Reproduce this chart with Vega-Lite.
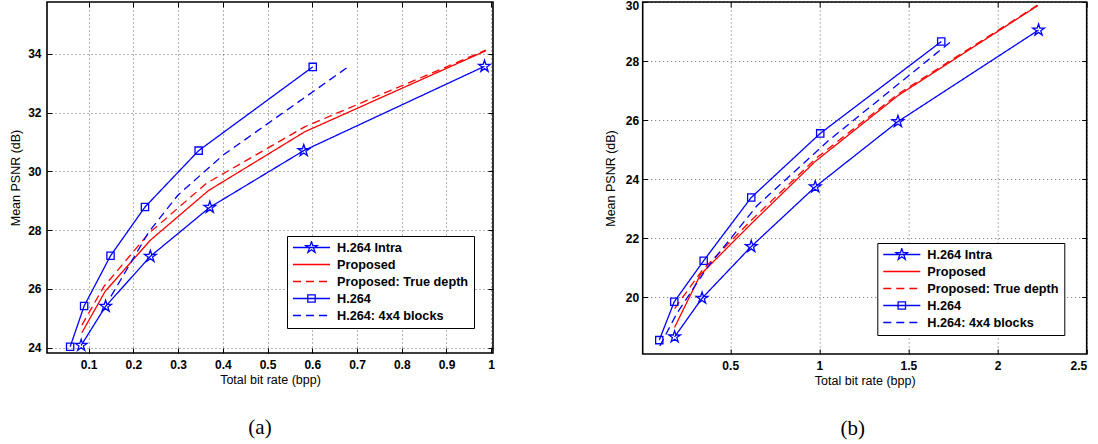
{
  "$schema": "https://vega.github.io/schema/vega-lite/v6.json",
  "background": "white",
  "padding": {"left": 8, "top": -2, "right": 0, "bottom": 0},
  "bounds": "flush",
  "spacing": 149.7,
  "config": {
    "font": "Liberation Sans",
    "view": {"stroke": "black", "strokeWidth": 1.6},
    "axis": {
      "domain": false,
      "format": "~g",
      "labelFont": "Liberation Sans",
      "labelFontWeight": "bold",
      "labelFontSize": 12,
      "labelColor": "black",
      "titleFont": "Liberation Sans",
      "titleFontWeight": "normal",
      "titleFontSize": 12.5,
      "titleColor": "black",
      "tickColor": "black",
      "tickSize": -5,
      "tickWidth": 1,
      "gridColor": "#000000",
      "gridDash": [1, 3],
      "gridOpacity": 0.6,
      "gridWidth": 1
    },
    "legend": {
      "title": null,
      "orient": "none",
      "symbolSize": 1369,
      "symbolStrokeWidth": 1.3,
      "labelFont": "Liberation Sans",
      "labelFontSize": 12.7,
      "labelFontWeight": "bold",
      "labelColor": "black",
      "labelOffset": 6,
      "labelLimit": 400,
      "clipHeight": 13,
      "rowPadding": 3,
      "padding": 5,
      "strokeColor": "black",
      "fillColor": "white"
    }
  },
  "resolve": {
    "scale": {"color": "independent", "strokeDash": "independent", "shape": "independent", "size": "independent"},
    "legend": {"color": "independent", "strokeDash": "independent"}
  },
  "datasets": {
    "pts": [
      {"p": "a", "s": "H.264 Intra", "x": 0.0834, "y": 24.08},
      {"p": "a", "s": "H.264 Intra", "x": 0.138, "y": 25.41},
      {"p": "a", "s": "H.264 Intra", "x": 0.238, "y": 27.11},
      {"p": "a", "s": "H.264 Intra", "x": 0.371, "y": 28.78},
      {"p": "a", "s": "H.264 Intra", "x": 0.581, "y": 30.71},
      {"p": "a", "s": "H.264 Intra", "x": 0.985, "y": 33.58},
      {"p": "a", "s": "Proposed", "x": 0.085, "y": 24.51},
      {"p": "a", "s": "Proposed", "x": 0.137, "y": 25.92},
      {"p": "a", "s": "Proposed", "x": 0.238, "y": 27.66},
      {"p": "a", "s": "Proposed", "x": 0.368, "y": 29.35},
      {"p": "a", "s": "Proposed", "x": 0.583, "y": 31.35},
      {"p": "a", "s": "Proposed", "x": 0.988, "y": 34.11},
      {"p": "a", "s": "Proposed: True depth", "x": 0.085, "y": 24.77},
      {"p": "a", "s": "Proposed: True depth", "x": 0.134, "y": 26.08},
      {"p": "a", "s": "Proposed: True depth", "x": 0.235, "y": 27.9},
      {"p": "a", "s": "Proposed: True depth", "x": 0.364, "y": 29.6},
      {"p": "a", "s": "Proposed: True depth", "x": 0.583, "y": 31.52},
      {"p": "a", "s": "Proposed: True depth", "x": 0.988, "y": 34.13},
      {"p": "a", "s": "H.264", "x": 0.0587, "y": 24.03},
      {"p": "a", "s": "H.264", "x": 0.09, "y": 25.42},
      {"p": "a", "s": "H.264", "x": 0.149, "y": 27.13},
      {"p": "a", "s": "H.264", "x": 0.226, "y": 28.79},
      {"p": "a", "s": "H.264", "x": 0.346, "y": 30.71},
      {"p": "a", "s": "H.264", "x": 0.601, "y": 33.56},
      {"p": "a", "s": "H.264: 4x4 blocks", "x": 0.15, "y": 25.75},
      {"p": "a", "s": "H.264: 4x4 blocks", "x": 0.235, "y": 27.95},
      {"p": "a", "s": "H.264: 4x4 blocks", "x": 0.3, "y": 29.2},
      {"p": "a", "s": "H.264: 4x4 blocks", "x": 0.4, "y": 30.55},
      {"p": "a", "s": "H.264: 4x4 blocks", "x": 0.681, "y": 33.57},
      {"p": "b", "s": "H.264 Intra", "x": 0.188, "y": 18.66},
      {"p": "b", "s": "H.264 Intra", "x": 0.342, "y": 19.97},
      {"p": "b", "s": "H.264 Intra", "x": 0.618, "y": 21.72},
      {"p": "b", "s": "H.264 Intra", "x": 0.977, "y": 23.74},
      {"p": "b", "s": "H.264 Intra", "x": 1.441, "y": 25.95},
      {"p": "b", "s": "H.264 Intra", "x": 2.23, "y": 29.05},
      {"p": "b", "s": "Proposed", "x": 0.188, "y": 18.98},
      {"p": "b", "s": "Proposed", "x": 0.332, "y": 20.76},
      {"p": "b", "s": "Proposed", "x": 0.616, "y": 22.48},
      {"p": "b", "s": "Proposed", "x": 0.977, "y": 24.6},
      {"p": "b", "s": "Proposed", "x": 1.441, "y": 26.83},
      {"p": "b", "s": "Proposed", "x": 2.226, "y": 29.88},
      {"p": "b", "s": "Proposed: True depth", "x": 0.188, "y": 19.62},
      {"p": "b", "s": "Proposed: True depth", "x": 0.345, "y": 20.93},
      {"p": "b", "s": "Proposed: True depth", "x": 0.62, "y": 22.62},
      {"p": "b", "s": "Proposed: True depth", "x": 0.98, "y": 24.7},
      {"p": "b", "s": "Proposed: True depth", "x": 1.441, "y": 26.88},
      {"p": "b", "s": "Proposed: True depth", "x": 2.226, "y": 29.9},
      {"p": "b", "s": "H.264", "x": 0.102, "y": 18.55},
      {"p": "b", "s": "H.264", "x": 0.186, "y": 19.85},
      {"p": "b", "s": "H.264", "x": 0.351, "y": 21.24},
      {"p": "b", "s": "H.264", "x": 0.618, "y": 23.38},
      {"p": "b", "s": "H.264", "x": 1.005, "y": 25.55},
      {"p": "b", "s": "H.264", "x": 1.684, "y": 28.66},
      {"p": "b", "s": "H.264: 4x4 blocks", "x": 0.105, "y": 18.35},
      {"p": "b", "s": "H.264: 4x4 blocks", "x": 0.2, "y": 19.45},
      {"p": "b", "s": "H.264: 4x4 blocks", "x": 0.37, "y": 21.0},
      {"p": "b", "s": "H.264: 4x4 blocks", "x": 0.65, "y": 23.1},
      {"p": "b", "s": "H.264: 4x4 blocks", "x": 1.05, "y": 25.3},
      {"p": "b", "s": "H.264: 4x4 blocks", "x": 1.734, "y": 28.64}
    ]
  },
  "hconcat": [
    {
      "width": 446,
      "height": 351,
      "title": {"text": "(a)", "orient": "bottom", "anchor": "middle", "font": "Liberation Serif", "fontSize": 21, "fontWeight": "normal", "color": "black", "offset": 31, "dx": -10},
      "data": {"name": "pts"},
      "transform": [{"filter": "datum.p === 'a'"}],
      "resolve": {"axis": {"x": "independent", "y": "independent"}},
      "layer": [
        {
          "mark": {"type": "line", "strokeWidth": 1.3},
          "encoding": {
            "x": {"field": "x", "type": "quantitative", "scale": {"domain": [0.007, 1.004], "zero": false, "nice": false},
                  "axis": {"orient": "bottom", "values": [0.1, 0.2, 0.3, 0.4, 0.5, 0.6, 0.7, 0.8, 0.9, 1], "title": "Total bit rate (bpp)", "grid": true, "labelPadding": 11, "titlePadding": 3}},
            "y": {"field": "y", "type": "quantitative", "scale": {"domain": [23.82, 35.77], "zero": false, "nice": false},
                  "axis": {"orient": "left", "values": [24, 26, 28, 30, 32, 34], "title": "Mean PSNR (dB)", "grid": true, "labelPadding": 11, "titlePadding": 5}},
            "color": {"field": "s", "type": "nominal",
                      "scale": {"domain": ["H.264 Intra", "Proposed", "Proposed: True depth", "H.264", "H.264: 4x4 blocks"], "range": ["#0000ff", "#ff0000", "#ff0000", "#0000ff", "#0000ff"]},
                      "legend": {"legendX": 240, "legendY": 234, "encode": {"symbols": {"update": {"fill": {"value": "transparent"}, "shape": {"signal": "datum.value === 'H.264 Intra' ? 'M-1,0H1M0,-0.324L0.0727,-0.1L0.3081,-0.1L0.1176,0.0382L0.1905,0.2621L0,0.1238L-0.1905,0.2621L-0.1176,0.0382L-0.3081,-0.1L-0.0727,-0.1Z' : (datum.value === 'H.264' ? 'M-1,0H1M-0.2,-0.2H0.2V0.2H-0.2Z' : 'M-1,0H1')"}}}}}},
            "strokeDash": {"field": "s", "type": "nominal",
                      "scale": {"domain": ["H.264 Intra", "Proposed", "Proposed: True depth", "H.264", "H.264: 4x4 blocks"], "range": [[1, 0], [1, 0], [8, 5], [1, 0], [8, 5]]},
                      "legend": {"legendX": 240, "legendY": 234, "encode": {"symbols": {"update": {"fill": {"value": "transparent"}, "shape": {"signal": "datum.value === 'H.264 Intra' ? 'M-1,0H1M0,-0.324L0.0727,-0.1L0.3081,-0.1L0.1176,0.0382L0.1905,0.2621L0,0.1238L-0.1905,0.2621L-0.1176,0.0382L-0.3081,-0.1L-0.0727,-0.1Z' : (datum.value === 'H.264' ? 'M-1,0H1M-0.2,-0.2H0.2V0.2H-0.2Z' : 'M-1,0H1')"}}}}}}
          }
        },
        {
          "transform": [{"filter": "datum.s === 'H.264 Intra' || datum.s === 'H.264'"}],
          "mark": {"type": "point", "filled": false, "strokeWidth": 1.3, "color": "#0000ff", "opacity": 1},
          "encoding": {
            "x": {"field": "x", "type": "quantitative", "axis": {"orient": "top", "labels": false, "grid": false, "title": null, "values": [0.1, 0.2, 0.3, 0.4, 0.5, 0.6, 0.7, 0.8, 0.9, 1]}},
            "y": {"field": "y", "type": "quantitative", "axis": {"orient": "right", "labels": false, "grid": false, "title": null, "values": [24, 26, 28, 30, 32, 34]}},
            "shape": {"field": "s", "type": "nominal", "scale": {"domain": ["H.264 Intra", "H.264"], "range": ["M0,-1L0.2245,-0.309L0.951,-0.309L0.363,0.118L0.588,0.809L0,0.382L-0.588,0.809L-0.363,0.118L-0.951,-0.309L-0.2245,-0.309Z", "square"]}, "legend": null},
            "size": {"field": "s", "type": "nominal", "scale": {"domain": ["H.264 Intra", "H.264"], "range": [150, 53]}, "legend": null}
          }
        }
      ]
    },
    {
      "width": 444,
      "height": 352,
      "title": {"text": "(b)", "orient": "bottom", "anchor": "middle", "font": "Liberation Serif", "fontSize": 21, "fontWeight": "normal", "color": "black", "offset": 31, "dx": -12},
      "data": {"name": "pts"},
      "transform": [{"filter": "datum.p === 'b'"}],
      "resolve": {"axis": {"x": "independent", "y": "independent"}},
      "layer": [
        {
          "mark": {"type": "line", "strokeWidth": 1.3},
          "encoding": {
            "x": {"field": "x", "type": "quantitative", "scale": {"domain": [0.009, 2.5], "zero": false, "nice": false},
                  "axis": {"orient": "bottom", "values": [0.5, 1, 1.5, 2, 2.5], "title": "Total bit rate (bpp)", "grid": true, "labelPadding": 11, "titlePadding": 3}},
            "y": {"field": "y", "type": "quantitative", "scale": {"domain": [18.08, 30], "zero": false, "nice": false},
                  "axis": {"orient": "left", "values": [20, 22, 24, 26, 28, 30], "title": "Mean PSNR (dB)", "grid": true, "labelPadding": 9, "titlePadding": 8, "labelFlush": 1, "labelFlushOffset": 1.5}},
            "color": {"field": "s", "type": "nominal",
                      "scale": {"domain": ["H.264 Intra", "Proposed", "Proposed: True depth", "H.264", "H.264: 4x4 blocks"], "range": ["#0000ff", "#ff0000", "#ff0000", "#0000ff", "#0000ff"]},
                      "legend": {"legendX": 234.6, "legendY": 241, "encode": {"symbols": {"update": {"fill": {"value": "transparent"}, "shape": {"signal": "datum.value === 'H.264 Intra' ? 'M-1,0H1M0,-0.324L0.0727,-0.1L0.3081,-0.1L0.1176,0.0382L0.1905,0.2621L0,0.1238L-0.1905,0.2621L-0.1176,0.0382L-0.3081,-0.1L-0.0727,-0.1Z' : (datum.value === 'H.264' ? 'M-1,0H1M-0.2,-0.2H0.2V0.2H-0.2Z' : 'M-1,0H1')"}}}}}},
            "strokeDash": {"field": "s", "type": "nominal",
                      "scale": {"domain": ["H.264 Intra", "Proposed", "Proposed: True depth", "H.264", "H.264: 4x4 blocks"], "range": [[1, 0], [1, 0], [8, 5], [1, 0], [8, 5]]},
                      "legend": {"legendX": 234.6, "legendY": 241, "encode": {"symbols": {"update": {"fill": {"value": "transparent"}, "shape": {"signal": "datum.value === 'H.264 Intra' ? 'M-1,0H1M0,-0.324L0.0727,-0.1L0.3081,-0.1L0.1176,0.0382L0.1905,0.2621L0,0.1238L-0.1905,0.2621L-0.1176,0.0382L-0.3081,-0.1L-0.0727,-0.1Z' : (datum.value === 'H.264' ? 'M-1,0H1M-0.2,-0.2H0.2V0.2H-0.2Z' : 'M-1,0H1')"}}}}}}
          }
        },
        {
          "transform": [{"filter": "datum.s === 'H.264 Intra' || datum.s === 'H.264'"}],
          "mark": {"type": "point", "filled": false, "strokeWidth": 1.3, "color": "#0000ff", "opacity": 1},
          "encoding": {
            "x": {"field": "x", "type": "quantitative", "axis": {"orient": "top", "labels": false, "grid": false, "title": null, "values": [0.5, 1, 1.5, 2, 2.5]}},
            "y": {"field": "y", "type": "quantitative", "axis": {"orient": "right", "labels": false, "grid": false, "title": null, "values": [20, 22, 24, 26, 28, 30]}},
            "shape": {"field": "s", "type": "nominal", "scale": {"domain": ["H.264 Intra", "H.264"], "range": ["M0,-1L0.2245,-0.309L0.951,-0.309L0.363,0.118L0.588,0.809L0,0.382L-0.588,0.809L-0.363,0.118L-0.951,-0.309L-0.2245,-0.309Z", "square"]}, "legend": null},
            "size": {"field": "s", "type": "nominal", "scale": {"domain": ["H.264 Intra", "H.264"], "range": [150, 53]}, "legend": null}
          }
        }
      ]
    }
  ]
}
